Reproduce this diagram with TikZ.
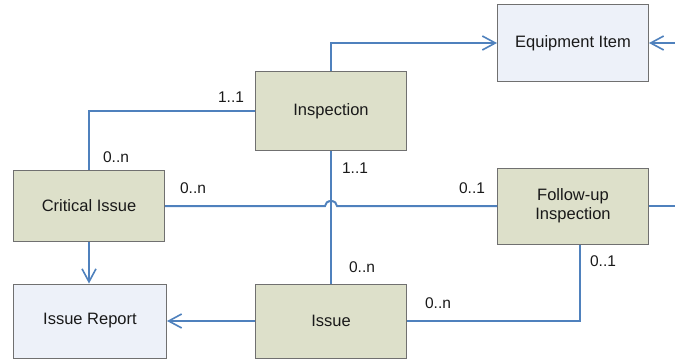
\documentclass[tikz,border=0pt]{standalone}
\usepackage{fontspec}
\setmainfont{Liberation Sans}
\usetikzlibrary{arrows.meta}
\definecolor{lineblue}{RGB}{79,129,189}
\definecolor{boxgreen}{RGB}{221,224,202}
\definecolor{boxblue}{RGB}{237,241,249}
\definecolor{boxborder}{RGB}{112,112,112}
\definecolor{txt}{RGB}{25,25,25}
\tikzset{
  entity/.style={draw=boxborder, line width=1pt, inner sep=0pt, align=center,
    font=\fontsize{16.5}{19}\selectfont, text=txt, minimum width=151pt},
  greenbox/.style={entity, fill=boxgreen},
  bluebox/.style={entity, fill=boxblue},
  conn/.style={draw=lineblue, line width=2pt},
  arr/.style={conn, -{Straight Barb[length=13pt,width=14pt,line width=1.6pt]}},
  mult/.style={font=\fontsize{15.5}{18}\selectfont, text=txt, inner sep=0pt}
}
\begin{document}
\begin{tikzpicture}[x=1pt,y=-1pt]
\useasboundingbox (0,0) rectangle (675,360);
% entities
\node[bluebox, minimum height=77pt] (equip) at (573,43) {Equipment Item};
\node[greenbox, minimum height=79pt] (insp) at (331,111) {Inspection};
\node[greenbox, minimum height=71pt] (crit) at (89,206) {Critical Issue};
\node[greenbox, minimum height=76pt] (follow) at (573,206) {Follow-up\\Inspection};
\node[bluebox, minimum height=74pt, minimum width=153pt] (report) at (90,321) {Issue Report};
\node[greenbox, minimum height=74pt] (issue) at (331,321) {Issue};
% free ends
\coordinate (eqr) at (675,43);
\coordinate (fur) at (675,206);
\coordinate (hopl) at (325,206);
\coordinate (hopr) at (337,206);
% connectors
\draw[arr] (insp.north) |- (equip.west);
\draw[arr] (eqr) -- (equip.east);
\draw[conn] (insp.west) -| (crit.north);
\draw[conn] (crit.east |- hopl) -- (hopl) arc[start angle=180, end angle=0, x radius=6pt, y radius=5pt] -- (follow.west |- hopr);
\draw[conn] (insp.south) -- (issue.north);
\draw[arr] (crit.south) -- (crit.south |- report.north);
\draw[arr] (issue.west) -- (report.east);
\draw[conn] ([xshift=7pt]follow.south) |- (issue.east);
\draw[conn] (follow.east) -- (fur);
% multiplicities
\node[mult] (m1) at (231,97) {1..1};
\node[mult] (m2) at (116,157) {0..n};
\node[mult] (m3) at (193,188) {0..n};
\node[mult] (m4) at (472,188) {0..1};
\node[mult] (m5) at (355,168) {1..1};
\node[mult] (m6) at (362,267) {0..n};
\node[mult] (m7) at (603,261) {0..1};
\node[mult] (m8) at (438,303) {0..n};
\end{tikzpicture}
\end{document}
